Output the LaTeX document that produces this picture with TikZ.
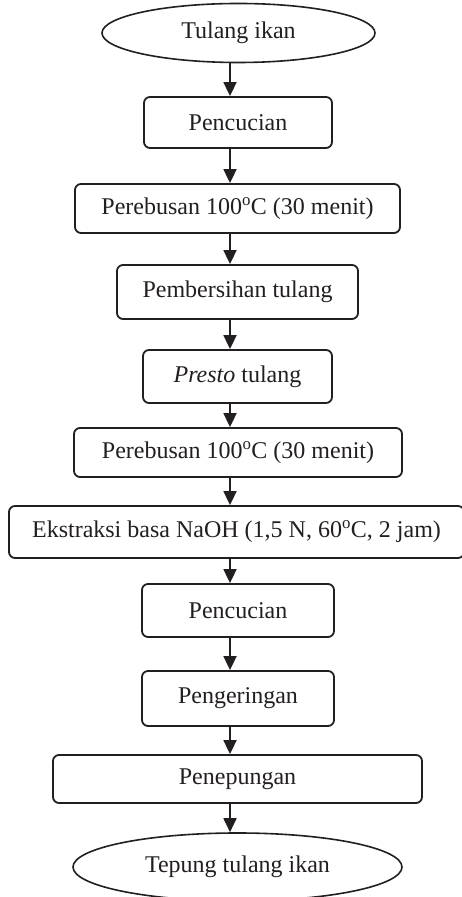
\documentclass[tikz,border=0pt]{standalone}
\usepackage{fontspec}
\setmainfont{Liberation Serif}
\usetikzlibrary{shapes.geometric,arrows.meta}

\definecolor{ink}{HTML}{231F20}

\tikzset{
  stepbox/.style={draw=ink, line width=1.8pt, rounded corners=6pt, fill=white,
    inner sep=0pt, text=ink, font=\fontsize{24}{28}\selectfont},
  terminal/.style={draw=ink, ellipse, line width=1.6pt, fill=white,
    inner sep=0pt, text=ink, font=\fontsize{24}{28}\selectfont},
  flow/.style={draw=ink, line width=1.8pt, -{Triangle[width=13pt,length=14pt]}}
}

\begin{document}
% positions in pt; y values are written as 897 minus the distance from the top edge
\begin{tikzpicture}[x=1pt,y=1pt]
  \useasboundingbox (0,0) rectangle (461,897);

  \node[terminal, minimum width=273pt, minimum height=59pt] (e1) at (238.5,{897-33}) {Tulang ikan};
  \node[stepbox, minimum width=188pt, minimum height=51pt] (b1) at (238,{897-122.5}) {Pencucian};
  \node[stepbox, minimum width=325pt, minimum height=49pt] (b2) at (237.5,{897-208.5}) {Perebusan 100\textsuperscript{o}C (30 menit)};
  \node[stepbox, minimum width=241pt, minimum height=54pt] (b3) at (237.5,{897-292}) {Pembersihan tulang};
  \node[stepbox, minimum width=189pt, minimum height=53pt] (b4) at (237.5,{897-376.5}) {\textit{Presto} tulang};
  \node[stepbox, minimum width=328pt, minimum height=49pt] (b5) at (238,{897-452.5}) {Perebusan 100\textsuperscript{o}C (30 menit)};
  \node[stepbox, minimum width=455pt, minimum height=52pt] (b6) at (236.5,{897-532}) {Ekstraksi basa NaOH (1,5 N, 60\textsuperscript{o}C, 2 jam)};
  \node[stepbox, minimum width=192pt, minimum height=53pt] (b7) at (238,{897-610.5}) {Pencucian};
  \node[stepbox, minimum width=192pt, minimum height=55pt] (b8) at (238,{897-698.5}) {Pengeringan};
  \node[stepbox, minimum width=369pt, minimum height=48pt] (b9) at (237.5,{897-779}) {Penepungan};
  \node[terminal, minimum width=329pt, minimum height=68pt] (e2) at (237.5,{897-867}) {Tepung tulang ikan};

  % all connectors run down one vertical line
  \coordinate (ax) at (230,0);
  \foreach \a/\b in {e1/b1, b1/b2, b2/b3, b3/b4, b4/b5, b5/b6, b6/b7, b7/b8, b8/b9, b9/e2}
    \draw[flow] (\a.south -| ax) -- (\b.north -| ax);
\end{tikzpicture}
\end{document}
